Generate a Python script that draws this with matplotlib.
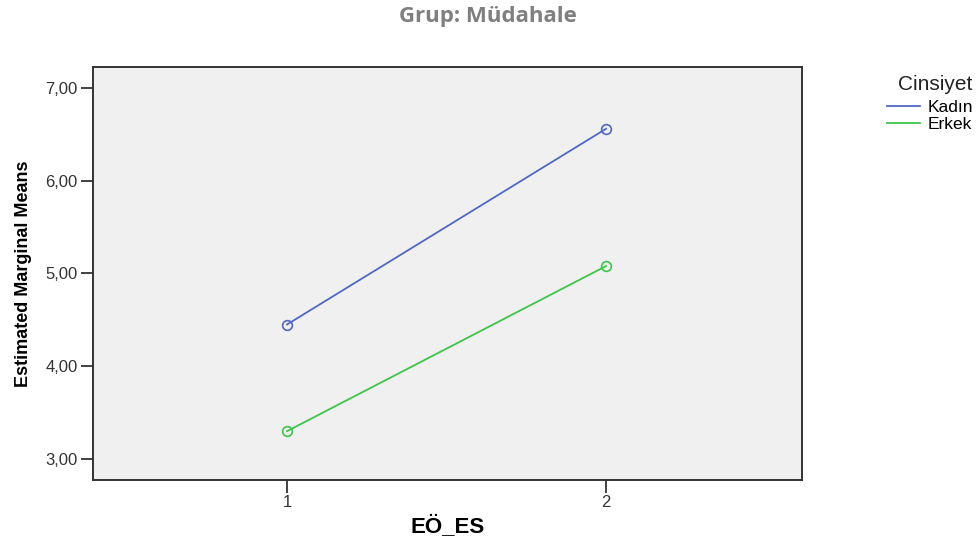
import numpy as np
import matplotlib
matplotlib.use('Agg')
import matplotlib.pyplot as plt

# data
levels = [1, 2]
kadin = [4.45, 6.56]
erkek = [3.30, 5.08]
series_names = ['Kadın', 'Erkek']
y_ticks = [3, 4, 5, 6, 7]
y_ticklabels = ['3,00', '4,00', '5,00', '6,00', '7,00']

BLUE = '#5068c4'
GREEN = '#3fc44a'
SANS = ['Liberation Sans', 'DejaVu Sans']

fig = plt.figure(figsize=(9.76, 5.45), dpi=100)
ax = fig.add_axes([0.0953, 0.1193, 0.7264, 0.7578])
ax.set_facecolor('#f0f0f0')

for vals, col, name in zip([kadin, erkek], [BLUE, GREEN], series_names):
    ax.plot(levels, vals, color=col, lw=1.3, marker='o', ms=7, mfc='none',
            mec=col, mew=1.2, label=name)

ax.set_xlim(0.392, 2.614)
ax.set_ylim(2.774, 7.226)
ax.set_xticks(levels)
ax.set_xticklabels([str(v) for v in levels])
ax.set_yticks(y_ticks)
ax.set_yticklabels(y_ticklabels)

for lab in ax.get_xticklabels() + ax.get_yticklabels():
    lab.set(family=SANS, size=12, color='#333333')
ax.tick_params(axis='both', length=9, width=1.3, color='#333333', pad=2)

for sp in ax.spines.values():
    sp.set_color('#333333')
    sp.set_linewidth(1.4)

ax.set_xlabel('EÖ_ES', family=SANS, fontsize=16, fontweight='bold', labelpad=4)
ax.set_ylabel('Estimated Marginal Means', family=['Liberation Sans Narrow'] + SANS,
              fontsize=13, fontweight='bold', labelpad=10)

fig.text(0.5, 0.97, 'Grup: Müdahale', ha='center', va='center',
         family=['Open Sans', 'DejaVu Sans'], fontsize=16, fontweight='bold',
         color='#7f7f7f')

# legend: title drawn as its own text, entries right-aligned below it
fig.text(0.996, 1 - 84 / 545, 'Cinsiyet', ha='right', va='center',
         family=SANS, fontsize=15, color='#222222')
leg = fig.legend(loc='upper right', bbox_to_anchor=(0.997, 1 - 100 / 545),
                 bbox_transform=fig.transFigure, frameon=False,
                 handlelength=1.9, handletextpad=0.45,
                 labelspacing=0.1, borderaxespad=0, borderpad=0,
                 prop={'family': SANS, 'size': 12.5})
for h in leg.legend_handles:
    h.set_marker('')

fig.savefig('out.png', dpi=100)
